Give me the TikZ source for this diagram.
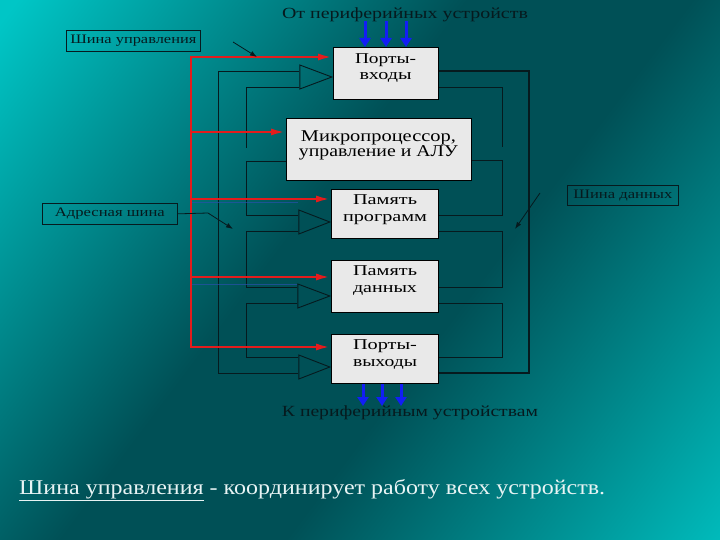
\documentclass[tikz,border=0pt]{standalone}
\usepackage{fontspec}
\setmainfont{Liberation Serif}
\usetikzlibrary{arrows.meta,shapes.geometric}
\definecolor{bgA}{RGB}{0,198,198}
\definecolor{bgB}{RGB}{0,80,86}
\definecolor{ink}{RGB}{6,26,30}
\definecolor{boxfill}{RGB}{233,233,233}
\definecolor{cred}{RGB}{228,28,28}
\definecolor{cblue}{RGB}{18,30,245}
\definecolor{abus}{RGB}{40,80,170}
\definecolor{capt}{RGB}{232,244,244}
\pgfdeclarehorizontalshading{bgshade}{100bp}{color(0bp)=(bgA); color(16bp)=(bgA); color(44bp)=(bgB); color(58bp)=(bgB); color(88bp)=(bgA); color(100bp)=(bgA)}
\newcommand\sw[2]{\resizebox{#1}{\height}{#2}}
\begin{document}
\begin{tikzpicture}[x=1pt,y=-1pt,
  unit/.style={draw=black, line width=1.3pt, fill=boxfill, inner sep=0pt, anchor=north west},
  utext/.style={font=\fontsize{15}{16.5}\selectfont, align=center, inner sep=0pt, text=black},
  buf/.style={isosceles triangle, isosceles triangle stretches, draw=ink, line width=0.9pt,
    minimum width=24pt, minimum height=32pt, inner sep=0pt, anchor=apex, shape border rotate=0},
  wire/.style={draw=ink, line width=0.8pt},
  ctl/.style={draw=cred, line width=2.6pt},
  ctlarrow/.style={ctl, -{Latex[length=15pt,width=7pt]}},
  io/.style={draw=cblue, line width=3pt, -{Triangle[length=9pt,width=11pt]}},
  lbl/.style={draw=ink, line width=0.7pt, inner sep=0pt, anchor=north west,
    font=\fontsize{13}{15}\selectfont, text=ink},
  note/.style={draw=ink, line width=0.8pt, -{Latex[length=7pt,width=5pt]}},
  abusline/.style={draw=abus, line width=1pt, opacity=0.7},
]
\useasboundingbox (0,0) rectangle (720,540);
\fill[shading=bgshade, shading angle=-37] (0,0) rectangle (720,540);

% units
\node[unit, minimum width=105pt, minimum height=52pt] (PI) at (333,47) {};
\node[unit, minimum width=185pt, minimum height=62pt] (MP) at (286,118) {};
\node[unit, minimum width=107pt, minimum height=49pt] (PP) at (331,189) {};
\node[unit, minimum width=107pt, minimum height=52pt] (PD) at (331,260) {};
\node[unit, minimum width=107pt, minimum height=49pt] (PO) at (331,334) {};

\node[utext] (tPItext) at (385.5,68) {\sw{61pt}{Порты-}\\\sw{52pt}{входы}};
\node[utext, font=\fontsize{16.5}{15.5}\selectfont] (tMPtext) at (378.5,145.5) {\sw{155pt}{Микропроцессор,}\\\sw{159pt}{управление и АЛУ}};
\node[utext] (tPPtext) at (385,209.5) {\sw{64pt}{Память}\\\sw{84pt}{программ}};
\node[utext] (tPDtext) at (385,280.5) {\sw{64pt}{Память}\\\sw{64pt}{данных}};
\node[utext] (tPOtext) at (385,354.5) {\sw{64pt}{Порты-}\\\sw{64pt}{выходы}};

% buffers
\node[buf] (tPI) at (333,77) {};
\node[buf, minimum height=31pt] (tPP) at (331,222) {};
\node[buf] (tPD) at (331,296) {};
\node[buf, minimum height=31pt] (tPO) at (331,367) {};

% left wires
\draw[wire] (tPI.west |- 0,71) -| (218,373) -- (tPO.west |- 0,373);
\draw[wire] (tPI.west |- 0,87) -| (246,148);
\draw[wire] (MP.west |- 0,161) -| (246,215) -- (tPP.west |- 0,215);
\draw[wire] (tPP.west |- 0,231) -| (246,287) -- (tPD.west |- 0,287);
\draw[wire] (tPD.west |- 0,303) -| (246,357) -- (tPO.west |- 0,357);

% right wires (data bus)
\draw[wire, line width=1.3pt] (PI.east |- 0,71) -| (529,373) -- (PO.east |- 0,373);
\draw[wire] (PI.east |- 0,87) -| (502,147);
\draw[wire] (MP.east |- 0,160) -| (502,215) -- (PP.east |- 0,215);
\draw[wire] (PP.east |- 0,231) -| (502,287) -- (PD.east |- 0,287);
\draw[wire] (PD.east |- 0,303) -| (502,357) -- (PO.east |- 0,357);

% faint address lines
\draw[abusline] (191,203) -- (tPP.west |- 0,203);
\draw[abusline] (191,284) -- (tPD.west |- 0,284);

% control bus
\draw[ctl, {Latex[length=15pt,width=7pt]}-{Latex[length=15pt,width=7pt]}] (PI.west |- 0,57) -- (191,57) -- (191,347) -- (PO.west |- 0,347);
\draw[ctlarrow] (191,132) -- (MP.west |- 0,132);
\draw[ctlarrow] (191,199) -- (PP.west |- 0,199);
\draw[ctlarrow] (191,277) -- (PD.west |- 0,277);

% peripheral arrows
\foreach \x in {365,386,406} \draw[io] (\x,21) -- (\x,0 |- PI.north);
\foreach \x in {363,382,401} \draw[io] (\x,0 |- PO.south) -- (\x,406);

\node[font=\fontsize{15.5}{17}\selectfont, text=ink, inner sep=0pt] (top) at (405,15) {\sw{246pt}{От периферийных устройств}};
\node[font=\fontsize{15.5}{17}\selectfont, text=ink, inner sep=0pt] (bottom) at (410,413) {\sw{256pt}{К периферийным устройствам}};

% bus labels
\node[lbl, minimum width=134pt, minimum height=21pt] (Lctl) at (66,30) {\sw{126pt}{Шина управления}};
\node[lbl, minimum width=135pt, minimum height=21pt] (Laddr) at (42,203) {\sw{110pt}{Адресная шина}};
\node[lbl, minimum width=111pt, minimum height=20pt] (Ldata) at (567,185) {\sw{99pt}{Шина данных}};

\coordinate (nc) at (233,42);
\coordinate (nd) at (540,193);
\draw[note] (nc) -- (257,57);
\draw[note] (Laddr.east) -- (208,213) -- (233,229);
\draw[note] (nd) -- (515,229);

\node[anchor=base west, text=capt, font=\fontsize{21}{24}\selectfont, inner sep=0pt] (caption) at (19,494)
  {\sw{586pt}{\underline{Шина управления} - координирует работу всех устройств.}};
\end{tikzpicture}
\end{document}
